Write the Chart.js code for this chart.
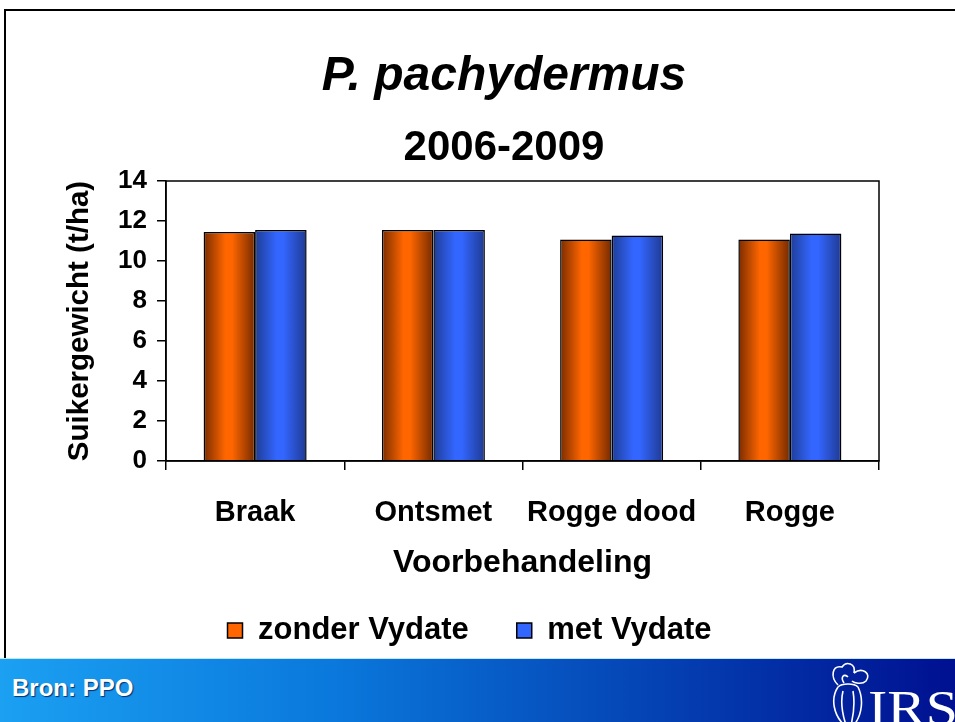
<!DOCTYPE html>
<html lang="nl">

<head>
  <meta charset="UTF-8">
  <title>P. pachydermus 2006-2009</title>
  <script src="https://cdn.jsdelivr.net/npm/chart.js"></script>
  <style>
    body {
      margin: 0;
      width: 955px;
      height: 722px;
      overflow: hidden;
      background: #fff;
      position: relative;
      font-family: "Liberation Sans", Arial, sans-serif;
    }

    .frame {
      position: absolute;
      left: 4px;
      top: 9px;
      width: 960px;
      height: 700px;
      border-left: 2px solid #000;
      border-top: 2px solid #000;
    }

    .title,
    .subtitle {
      position: absolute;
      left: 0;
      width: 1008px;
      text-align: center;
      font-weight: bold;
      color: #000;
    }

    .title {
      top: 50px;
      font-size: 48px;
      line-height: 48px;
      font-style: italic;
    }

    .subtitle {
      top: 125px;
      font-size: 42px;
      line-height: 42px;
    }

    #wrap {
      position: absolute;
      left: 0;
      top: 0;
      width: 955px;
      height: 722px;
    }

    footer {
      position: absolute;
      left: 0;
      top: 658px;
      width: 955px;
      height: 64px;
      background: linear-gradient(to right, #1ba0f2 0%, #0a78dc 35%, #0548b8 65%, #001090 100%);
      border-top: 1px solid #bfe9fb;
    }

    footer span {
      position: absolute;
      left: 12px;
      top: 15px;
      color: #fff;
      font-weight: bold;
      font-size: 24px;
      text-shadow: 1px 1px 1px #003070;
    }

    footer svg {
      position: absolute;
      left: 822px;
      top: 0;
    }
  </style>
</head>

<body>
  <div class="frame"></div>
  <div id="wrap">
    <canvas id="chart"></canvas>
  </div>
  <div class="title">P. pachydermus</div>
  <div class="subtitle">2006-2009</div>
  <footer>
    <span>Bron: PPO</span>
    <svg width="133" height="64" viewBox="0 0 133 64">
      <g fill="none" stroke="#fff" stroke-width="1.6">
        <path d="M16 26 C8 18 10 6 20 8 C24 2 34 4 32 14" />
        <path d="M32 14 C40 8 50 14 44 22 C40 26 32 24 30 22" />
        <path d="M22 24 C18 18 22 14 26 18" />
        <path d="M16 28 C8 40 12 56 22 66 M36 28 C42 40 40 56 32 66" />
        <path d="M16 28 C20 24 32 24 36 28" />
        <path d="M21 32 C18 44 20 54 24 66 M31 32 C33 44 32 54 29 66" />
      </g>
      <text x="46" y="66" fill="#fff" font-family="'Liberation Serif', 'DejaVu Serif', serif" font-size="50" textLength="90" lengthAdjust="spacingAndGlyphs">IRS</text>
    </svg>
  </footer>
  <script>
    // data
    const categories = ['Braak', 'Ontsmet', 'Rogge dood', 'Rogge'];
    const zonderVydate = [11.45, 11.55, 11.08, 11.08];
    const metVydate = [11.55, 11.55, 11.27, 11.38];
    const seriesNames = ['zonder Vydate', 'met Vydate'];
    const yTicks = [0, 2, 4, 6, 8, 10, 12, 14];

    const catPct = 0.578;
    const font = 'Liberation Sans';

    const barColors = [
      { base: '#ff6600', edgeL: '#7a2c00', edgeR: '#742a00' },
      { base: '#3366ff', edgeL: '#1e3d96', edgeR: '#1f3a92' },
    ];

    // horizontal shading on every bar
    function barFill(c) {
      const col = barColors[c.datasetIndex];
      const xs = c.chart.scales.x;
      if (!xs || c.type !== 'data' || !Number.isFinite(xs.width) || xs.width <= 0) return col.base;
      const step = xs.width / categories.length;
      const w = step * catPct / 2;
      const left = xs.getPixelForValue(c.dataIndex) - w + c.datasetIndex * w;
      if (!Number.isFinite(left)) return col.base;
      const g = c.chart.ctx.createLinearGradient(left, 0, left + w, 0);
      g.addColorStop(0, col.edgeL);
      g.addColorStop(0.42, col.base);
      g.addColorStop(0.55, col.base);
      g.addColorStop(1, col.edgeR);
      return g;
    }

    const plotFrame = {
      id: 'plotFrame',
      afterDatasetsDraw(chart) {
        const { ctx, chartArea: a } = chart;
        ctx.save();
        ctx.strokeStyle = '#000';
        ctx.lineWidth = 1.5;
        ctx.strokeRect(a.left, a.top, a.right - a.left, a.bottom - a.top);
        ctx.restore();
      }
    };

    new Chart(document.getElementById('chart'), {
      type: 'bar',
      data: {
        labels: categories,
        datasets: [
          {
            label: seriesNames[0],
            data: zonderVydate,
            backgroundColor: barFill,
            borderColor: '#000',
            borderWidth: 1.5,
          },
          {
            label: seriesNames[1],
            data: metVydate,
            backgroundColor: barFill,
            borderColor: '#000',
            borderWidth: 1.5,
          }
        ]
      },
      options: {
        responsive: true,
        maintainAspectRatio: false,
        animation: false,
        categoryPercentage: catPct,
        barPercentage: 1,
        layout: {
          padding: { top: 181, left: 60, right: 76, bottom: 66 }
        },
        plugins: {
          tooltip: { enabled: false },
          legend: {
            position: 'bottom',
            labels: {
              color: '#000',
              boxWidth: 15,
              boxHeight: 15,
              padding: 48,
              font: { family: font, size: 31, weight: 'bold' },
              generateLabels(chart) {
                return Chart.defaults.plugins.legend.labels.generateLabels(chart).map((item, i) => {
                  item.fillStyle = barColors[i].base;
                  item.strokeStyle = '#000';
                  item.lineWidth = 1.5;
                  return item;
                });
              }
            }
          }
        },
        scales: {
          x: {
            afterFit(scale) { scale.height = 106; },
            grid: {
              offset: true,
              drawOnChartArea: false,
              tickLength: 9,
              color: '#000',
              lineWidth: 1.5
            },
            border: { color: '#000', width: 1.5 },
            ticks: {
              color: '#000',
              padding: 25.6,
              font: { family: font, size: 29, weight: 'bold' }
            },
            title: {
              display: true,
              text: 'Voorbehandeling',
              color: '#000',
              padding: { top: 0, bottom: -15.2 },
              font: { family: font, size: 32, weight: 'bold' }
            }
          },
          y: {
            min: 0,
            max: 14,
            afterFit(scale) { scale.width = 106; },
            afterBuildTicks(scale) { scale.ticks = yTicks.map(v => ({ value: v })); },
            grid: {
              drawOnChartArea: false,
              tickLength: 9,
              color: '#000',
              lineWidth: 1.5
            },
            border: { color: '#000', width: 1.5 },
            ticks: {
              color: '#000',
              padding: 10,
              font: { family: font, size: 26, weight: 'bold' }
            },
            title: {
              display: true,
              text: 'Suikergewicht (t/ha)',
              color: '#000',
              padding: { top: 2.3, bottom: 0 },
              font: { family: font, size: 29.5, weight: 'bold' }
            }
          }
        }
      },
      plugins: [plotFrame]
    });
  </script>
</body>

</html>
